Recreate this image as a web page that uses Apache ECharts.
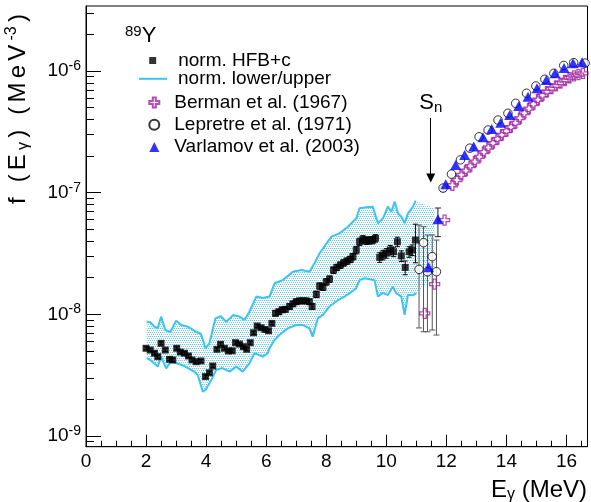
<!DOCTYPE html>
<html><head><meta charset="utf-8">
<script src="https://cdn.jsdelivr.net/npm/echarts@6/dist/echarts.min.js"></script>
<style>html,body{margin:0;padding:0;background:#fff}#c{width:591px;height:502px}</style>
</head><body><div id="c"></div>
<script>
const FONT = '"Liberation Sans", Arial, Helvetica, sans-serif';

// ---------- axes ----------
const xMin = 0, xMax = 16.7;
const yMin = 8.17e-10, yMax = 3.42e-6;
const xMajorTicks = [0, 2, 4, 6, 8, 10, 12, 14, 16];
const xMinorTicks = [0.5,1,1.5,2.5,3,3.5,4.5,5,5.5,6.5,7,7.5,8.5,9,9.5,10.5,11,11.5,12.5,13,13.5,14.5,15,15.5,16.5];
const yMajorTicks = [1e-9, 1e-8, 1e-7, 1e-6];
const yMinorTicks = [9e-10,2e-9,3e-9,4e-9,5e-9,6e-9,7e-9,8e-9,9e-9,2e-8,3e-8,4e-8,5e-8,6e-8,7e-8,8e-8,9e-8,
  2e-7,3e-7,4e-7,5e-7,6e-7,7e-7,8e-7,9e-7,2e-6,3e-6];

// ---------- norm. HFB+c (black squares) ----------
const hfbE = [2.00,2.14,2.28,2.39,2.50,2.64,2.78,2.89,3.02,3.14,3.28,3.41,3.53,3.67,3.83,3.98,4.11,4.22,4.36,4.48,
  4.61,4.74,4.87,4.98,5.11,5.24,5.35,5.47,5.58,5.70,5.83,5.96,6.08,6.19,6.31,6.42,6.53,6.64,6.78,6.89,
  7.00,7.11,7.22,7.33,7.44,7.53,7.67,7.78,7.89,8.00,8.11,8.24,8.35,8.47,8.58,8.69,8.80,8.89,9.00,9.11,
  9.22,9.33,9.44,9.55,9.64,9.78,9.89,10.00,10.13,10.24,10.37,10.50,10.63,10.76,10.86,10.97];
const hfbF = [5.26e-9,5.09e-9,4.79e-9,4.49e-9,5.78e-9,5.09e-9,4.27e-9,4.22e-9,5.26e-9,4.90e-9,4.79e-9,4.55e-9,4.22e-9,4.08e-9,4.14e-9,3.08e-9,3.31e-9,3.76e-9,5.16e-9,5.68e-9,
  5.26e-9,5.00e-9,5.02e-9,5.85e-9,5.70e-9,5.42e-9,5.16e-9,5.85e-9,7.06e-9,8.02e-9,7.76e-9,7.50e-9,7.33e-9,8.43e-9,1.02e-8,1.05e-8,1.09e-8,1.10e-8,1.16e-8,1.22e-8,
  1.27e-8,1.29e-8,1.29e-8,1.29e-8,1.27e-8,1.16e-8,1.46e-8,1.71e-8,1.67e-8,1.85e-8,1.95e-8,2.31e-8,2.43e-8,2.54e-8,2.65e-8,2.74e-8,2.83e-8,2.98e-8,3.38e-8,3.95e-8,
  4.14e-8,4.03e-8,4.06e-8,4.08e-8,4.22e-8,2.94e-8,3.08e-8,3.18e-8,3.38e-8,3.27e-8,3.95e-8,3.02e-8,2.43e-8,3.27e-8,3.38e-8,4.08e-8];
const hfbRelErr = [0.03,0.03,0.03,0.03,0.03,0.03,0.03,0.03,0.03,0.03,0.03,0.03,0.03,0.03,0.03,0.03,0.03,0.03,0.03,0.03,
  0.03,0.03,0.03,0.03,0.03,0.03,0.03,0.03,0.03,0.03,0.03,0.03,0.03,0.03,0.05,0.05,0.05,0.05,0.05,0.05,
  0.05,0.05,0.05,0.05,0.05,0.05,0.06,0.06,0.06,0.06,0.06,0.06,0.06,0.06,0.06,0.06,0.06,0.06,0.07,0.07,
  0.07,0.07,0.07,0.07,0.07,0.09,0.09,0.09,0.09,0.09,0.09,0.10,0.13,0.10,0.10,0.35];

// ---------- norm. lower/upper band ----------
const upperE = [2.02,2.14,2.28,2.39,2.50,2.64,2.81,3.00,3.17,3.39,3.67,3.83,3.98,4.11,4.31,4.48,4.67,4.91,5.11,5.28,
  5.44,5.67,5.89,6.11,6.28,6.55,6.89,7.17,7.44,7.61,7.78,8.17,8.44,8.72,9.00,9.11,9.33,9.55,9.72,9.89,
  10.05,10.17,10.28,10.39,10.50,10.61,10.72,10.89,10.98];
const upperF = [8.69e-9,8.61e-9,7.91e-9,7.73e-9,9.57e-9,7.43e-9,7.16e-9,8.87e-9,8.17e-9,7.91e-9,7.19e-9,6.89e-9,5.26e-9,5.78e-9,9.27e-9,9.68e-9,8.69e-9,9.89e-9,9.57e-9,8.97e-9,
  1.05e-8,1.40e-8,1.36e-8,1.40e-8,1.80e-8,1.91e-8,2.24e-8,2.31e-8,2.24e-8,2.63e-8,3.18e-8,4.35e-8,4.63e-8,5.25e-8,6.15e-8,7.45e-8,7.59e-8,7.67e-8,5.60e-8,6.15e-8,
  7.67e-8,6.98e-8,8.43e-8,6.76e-8,6.34e-8,5.60e-8,6.76e-8,7.67e-8,8.59e-8];
const lowerE = [2.02,2.14,2.39,2.50,2.67,2.81,3.00,3.28,3.61,3.72,3.89,3.98,4.17,4.33,4.54,4.78,5.00,5.22,5.44,5.61,
  5.89,6.05,6.11,6.28,6.44,6.72,7.00,7.22,7.44,7.55,7.72,7.89,8.11,8.39,8.61,8.78,9.00,9.11,9.28,9.61,
  9.72,9.88,10.05,10.22,10.33,10.50,10.61,10.72,10.89,11.00];
const lowerF = [4.36e-9,4.22e-9,3.72e-9,4.49e-9,3.60e-9,4.06e-9,3.98e-9,3.76e-9,3.36e-9,3.17e-9,2.31e-9,2.39e-9,2.88e-9,3.49e-9,3.62e-9,3.38e-9,3.72e-9,3.38e-9,3.96e-9,4.79e-9,
  4.49e-9,4.79e-9,5.26e-9,6.15e-9,6.76e-9,7.67e-9,8.17e-9,8.17e-9,7.67e-9,6.55e-9,9.27e-9,9.89e-9,1.16e-8,1.31e-8,1.40e-8,1.49e-8,1.64e-8,1.91e-8,1.98e-8,1.91e-8,
  1.40e-8,1.50e-8,1.44e-8,1.69e-8,1.49e-8,1.40e-8,9.89e-9,1.44e-8,1.44e-8,1.49e-8];
// shaded area continues a little past the drawn lines
const fillExtE = [11.6];
const fillExtUpper = [7.4e-8];
const fillExtLower = [2.1e-8];

// ---------- Berman et al. (1967) ----------
const bermanE = [11.28,11.61,11.94,12.20,12.35,12.50,12.65,12.80,12.95,13.10,13.25,13.40,13.55,13.70,13.85,14.00,14.15,
  14.30,14.45,14.60,14.75,14.90,15.05,15.20,15.35,15.50,15.65,15.80,15.95,16.10,16.25,16.40,16.55];
const bermanF = [1.02e-8,1.77e-8,5.95e-8,1.15e-7,1.27e-7,1.40e-7,1.52e-7,1.65e-7,1.80e-7,1.97e-7,2.15e-7,2.35e-7,2.55e-7,2.76e-7,2.98e-7,3.20e-7,3.45e-7,
  3.75e-7,4.10e-7,4.50e-7,4.90e-7,5.35e-7,5.80e-7,6.30e-7,6.75e-7,7.15e-7,7.55e-7,7.95e-7,8.35e-7,8.80e-7,9.10e-7,9.35e-7,9.55e-7];

// ---------- Lepretre et al. (1971) ----------
const lepE = [11.09,11.24,11.37,11.53,11.67,11.89,12.17,12.47,12.78,13.09,13.39,13.72,14.05,14.31,14.67,14.98,15.28,15.58,15.91,16.24,16.62];
const lepF = [2.34e-8,3.88e-8,2.24e-8,2.98e-8,2.24e-8,1.09e-7,1.42e-7,1.86e-7,2.32e-7,2.88e-7,3.27e-7,3.95e-7,4.49e-7,5.42e-7,6.56e-7,7.53e-7,8.55e-7,9.57e-7,1.11e-6,1.17e-6,1.16e-6];
const lepLow = [7.73e-9,7.19e-9,7.19e-9,7.43e-9,6.76e-9,1.02e-7];
const lepHigh = [5.42e-8,5.25e-8,4.49e-8,4.49e-8,4.08e-8,1.12e-7];

// ---------- Varlamov et al. (2003) ----------
const varE = [11.41,11.72,11.98,12.31,12.61,12.91,13.22,13.51,13.81,14.11,14.41,14.72,15.02,15.33,15.62,15.92,16.22,16.52];
const varF = [2.44e-8,6.04e-8,1.17e-7,1.69e-7,2.04e-7,2.39e-7,2.85e-7,3.34e-7,3.76e-7,4.35e-7,5.15e-7,6.15e-7,7.21e-7,8.44e-7,9.57e-7,1.06e-6,1.16e-6,1.18e-6];
const varLow = [null,4.35e-8];
const varHigh = [null,7.48e-8];

// ---------- S_n arrow ----------
const snE = 11.48;
const snArrowTop = 4.11e-7, snArrowTip = 1.32e-7;

// ---------- styles ----------
const CYAN = '#3cc3f2';
const PURPLE = '#a020a0';
const crossPath = 'path://M3.5,0 L6.5,0 L6.5,3.5 L10,3.5 L10,6.5 L6.5,6.5 L6.5,10 L3.5,10 L3.5,6.5 L0,6.5 L0,3.5 L3.5,3.5 Z';

const pc = document.createElement('canvas'); pc.width = 4; pc.height = 4;
const pg = pc.getContext('2d'); pg.fillStyle = 'rgb(105,203,245)';
[[0,0],[2,0],[1,2],[3,2]].forEach(p => pg.fillRect(p[0], p[1], 1, 1));

const zip = (a, b) => a.map((v, i) => [v, b[i]]);

function errRender(color, cap) {
  return function (params, api) {
    const x = api.value(0), lo = api.value(1), hi = api.value(2);
    const p1 = api.coord([x, hi]), p2 = api.coord([x, lo]);
    const st = { stroke: color, lineWidth: 1 };
    return { type: 'group', children: [
      { type: 'line', shape: { x1: p1[0], y1: p1[1], x2: p2[0], y2: p2[1] }, style: st },
      { type: 'line', shape: { x1: p1[0]-cap, y1: p1[1], x2: p1[0]+cap, y2: p1[1] }, style: st },
      { type: 'line', shape: { x1: p2[0]-cap, y1: p2[1], x2: p2[0]+cap, y2: p2[1] }, style: st }
    ]};
  };
}

const hfbErrData = hfbE.map((e, i) => [e, hfbF[i]*(1-hfbRelErr[i]), hfbF[i]*(1+hfbRelErr[i])]);
const lepErrData = lepLow.map((l, i) => [lepE[i], l, lepHigh[i]]);
const varErrData = varLow.map((l, i) => [varE[i], l, varHigh[i]]).filter(d => d[1] != null);

const bandUpE = upperE.concat(fillExtE), bandUpF = upperF.concat(fillExtUpper);
const bandLoE = lowerE.concat(fillExtE), bandLoF = lowerF.concat(fillExtLower);

const supLabel = v => '{b|10}{s|' + Math.round(Math.log10(v)) + '}';
const legendText = pad => ({ fontSize: 19, fontFamily: FONT, color: '#000', lineHeight: 18, padding: [0, 0, 0, pad] });

// y title: each glyph its own token so ROOT-like wide spacing can be reproduced
const yTitle = '{a|f}{a| }{a|(}{a|E}{u|γ}{a|)}{a| }{a|(}{a|M}{a|e}{a|V}{p|-3}{a|)}';

const chart = echarts.init(document.getElementById('c'), null, { renderer: 'canvas' });
chart.setOption({
  animation: false,
  backgroundColor: '#fff',
  textStyle: { fontFamily: FONT },
  grid: { left: 86, right: 3.5, top: 6, bottom: 55.3, show: true, borderColor: '#000', borderWidth: 1, containLabel: false, outerBoundsMode: 'none' },
  xAxis: [{
    type: 'value', min: xMin, max: xMax,
    axisLine: { show: true, onZero: false, lineStyle: { color: '#000', width: 1 } },
    axisTick: { show: true, inside: true, length: 12, lineStyle: { color: '#000' }, customValues: xMajorTicks },
    axisLabel: { show: true, customValues: xMajorTicks, fontSize: 19, color: '#000', fontFamily: FONT, margin: 6 },
    splitLine: { show: false }
  }, {
    type: 'value', min: xMin, max: xMax, position: 'bottom',
    axisLine: { show: false, onZero: false },
    axisTick: { show: true, inside: true, length: 6, lineStyle: { color: '#000' }, customValues: xMinorTicks },
    axisLabel: { show: false }, splitLine: { show: false }
  }],
  yAxis: [{
    type: 'log', min: yMin, max: yMax,
    axisLine: { show: true, onZero: false, lineStyle: { color: '#000', width: 1 } },
    axisTick: { show: true, inside: true, length: 15, lineStyle: { color: '#000' }, customValues: yMajorTicks },
    axisLabel: { show: true, customValues: yMajorTicks, margin: 5, formatter: supLabel, color: '#000',
      rich: { b: { fontSize: 19, fontFamily: FONT, color: '#000', lineHeight: 24 },
              s: { fontSize: 14, fontFamily: FONT, color: '#000', lineHeight: 7, verticalAlign: 'top' } } },
    splitLine: { show: false }, minorTick: { show: false }
  }, {
    type: 'log', min: yMin, max: yMax, position: 'left',
    axisLine: { show: false, onZero: false },
    axisTick: { show: true, inside: true, length: 8, lineStyle: { color: '#000' }, customValues: yMinorTicks },
    axisLabel: { show: false }, splitLine: { show: false }
  }],
  legend: [{
    left: 149.2, top: 51, orient: 'vertical', padding: 0, itemWidth: 7, itemHeight: 7,
    selectedMode: false, data: [{ name: 'norm. HFB+c', icon: 'rect' }], textStyle: legendText(17)
  }, {
    left: 139, top: 69.3, orient: 'vertical', padding: 0, itemWidth: 28, itemHeight: 2,
    selectedMode: false, data: [{ name: 'norm. lower/upper', icon: 'rect' }], textStyle: legendText(6)
  }, {
    left: 148.3, top: 93, orient: 'vertical', padding: 0, itemWidth: 10, itemHeight: 10, itemGap: 3.3,
    selectedMode: false,
    data: [{ name: 'Berman et al. (1967)', icon: crossPath },
           { name: 'Lepretre et al. (1971)', icon: 'circle' },
           { name: 'Varlamov et al. (2003)', icon: 'triangle' }],
    textStyle: legendText(10)
  }],
  graphic: [
    { type: 'text', x: 18, y: 12, rotation: Math.PI / 2, silent: true,
      style: { text: yTitle, align: 'right', verticalAlign: 'middle',
        rich: { a: { fontSize: 24, fontFamily: FONT, fill: '#000', lineHeight: 28, padding: [0, 2.1, 0, 2.1] },
                u: { fontSize: 16, fontFamily: FONT, fill: '#000', lineHeight: 12, verticalAlign: 'bottom', padding: [0, 2.1, 0, 2.1] },
                p: { fontSize: 16, fontFamily: FONT, fill: '#000', lineHeight: 8, verticalAlign: 'top', padding: [0, 2.1, 0, 2.1] } } } },
    { type: 'text', x: 587, y: 490, silent: true,
      style: { text: '{a|E}{u|γ}{a| (MeV)}', align: 'right', verticalAlign: 'middle',
        rich: { a: { fontSize: 24, fontFamily: FONT, fill: '#000', lineHeight: 26 },
                u: { fontSize: 16, fontFamily: FONT, fill: '#000', lineHeight: 12, verticalAlign: 'bottom' } } } },
    { type: 'text', x: 125, y: 36, silent: true,
      style: { text: '{p|89}{a|Y}', align: 'left', verticalAlign: 'middle',
        rich: { a: { fontSize: 22, fontFamily: FONT, fill: '#000', lineHeight: 24 },
                p: { fontSize: 15, fontFamily: FONT, fill: '#000', lineHeight: 8, verticalAlign: 'top' } } } }
  ],
  series: [
    { type: 'custom', name: 'band', silent: true, z: 1, clip: true,
      data: [[bandUpE[0], bandUpF[0]]],
      renderItem: function (params, api) {
        const pts = [];
        for (let i = 0; i < bandUpE.length; i++) pts.push(api.coord([bandUpE[i], bandUpF[i]]));
        for (let i = bandLoE.length - 1; i >= 0; i--) pts.push(api.coord([bandLoE[i], bandLoF[i]]));
        return { type: 'polygon', shape: { points: pts }, style: { fill: { image: pc, repeat: 'repeat' } } };
      } },
    { type: 'line', name: 'norm. lower/upper', data: zip(upperE, upperF), symbol: 'none', z: 2,
      color: CYAN, lineStyle: { color: CYAN, width: 2 } },
    { type: 'line', name: 'norm. lower/upper', data: zip(lowerE, lowerF), symbol: 'none', z: 2,
      color: CYAN, lineStyle: { color: CYAN, width: 2 } },
    { type: 'custom', name: 'hfbErr', silent: true, z: 3, data: hfbErrData, encode: { x: 0, y: [1, 2] },
      renderItem: errRender('#000', 2.5) },
    { type: 'custom', name: 'lepErr', silent: true, z: 3, data: lepErrData, encode: { x: 0, y: [1, 2] },
      renderItem: errRender('#555', 3) },
    { type: 'custom', name: 'varErr', silent: true, z: 3, data: varErrData, encode: { x: 0, y: [1, 2] },
      renderItem: errRender('#222', 3) },
    { type: 'scatter', name: 'norm. HFB+c', data: zip(hfbE, hfbF), symbol: 'rect', symbolSize: 7, z: 4,
      itemStyle: { color: '#000' },
      markLine: { silent: true, symbol: ['none', 'triangle'], symbolSize: 9, animation: false,
        lineStyle: { color: '#000', width: 1, type: 'solid' },
        label: { show: true, position: 'start', distance: 3, formatter: '{b|S}{s|n}',
          rich: { b: { fontSize: 22, fontFamily: FONT, color: '#000', lineHeight: 24 },
                  s: { fontSize: 15, fontFamily: FONT, color: '#000', lineHeight: 10, verticalAlign: 'bottom' } } },
        data: [[{ coord: [snE, snArrowTop] }, { coord: [snE, snArrowTip] }]] } },
    { type: 'scatter', name: 'Berman et al. (1967)', data: zip(bermanE, bermanF), symbol: crossPath, symbolSize: 10, z: 5,
      itemStyle: { color: 'rgba(0,0,0,0)', borderColor: PURPLE, borderWidth: 1.3 } },
    { type: 'scatter', name: 'Lepretre et al. (1971)', data: zip(lepE, lepF), symbol: 'circle', symbolSize: 8.5, z: 5,
      itemStyle: { color: '#fff', borderColor: '#000', borderWidth: 1 } },
    { type: 'scatter', name: 'Varlamov et al. (2003)', data: zip(varE, varF), symbol: 'triangle', symbolSize: [11, 10], z: 6,
      itemStyle: { color: '#0000ff' } }
  ]
});
</script></body></html>
